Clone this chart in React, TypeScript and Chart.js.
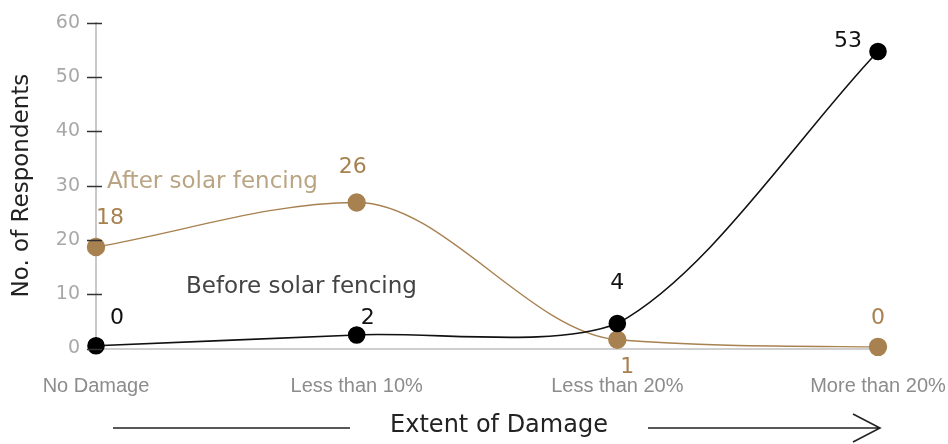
import React, { useEffect, useRef } from 'react';
import { Chart, registerables } from 'chart.js';

Chart.register(...registerables);

// ---- data ----
const categories = ['No Damage', 'Less than 10%', 'Less than 20%', 'More than 20%'];
const beforeValues = [0.5, 2.5, 4.6, 54.7];
const afterValues = [18.7, 26.9, 1.6, 0.3];
const beforeLabels = ['0', '2', '4', '53'];
const afterLabels = ['18', '26', '1', '0'];
const yTickValues = [0, 10, 20, 30, 40, 50, 60];
const seriesNames = ['Before solar fencing', 'After solar fencing'];
const yTitle = 'No. of Respondents';
const xTitle = 'Extent of Damage';

// ---- styles ----
const FONT = '"DejaVu Sans", sans-serif';
const GOLD = '#a88150';
const GOLD_LIGHT = '#b9a583';
const BLACK = '#000000';
const BEFORE_OFFSETS = [[21, -28], [11, -17], [0, -40], [-30, -10]];
const AFTER_OFFSETS = [[14, -29], [-4, -35], [10, 27], [0, -29]];

const decorPlugin = {
  id: 'decor',
  afterDatasetsDraw(chart: any) {
    const { ctx, chartArea, scales } = chart;
    const y = scales.y;
    ctx.save();
    // tick marks crossing the y axis
    ctx.strokeStyle = '#333';
    ctx.lineWidth = 1.5;
    yTickValues.forEach((v) => {
      const py = Math.round(y.getPixelForValue(v)) + 0.5;
      ctx.beginPath();
      ctx.moveTo(chartArea.left - 9, py);
      ctx.lineTo(chartArea.left + 6, py);
      ctx.stroke();
    });
    // data labels
    ctx.textAlign = 'center';
    ctx.textBaseline = 'middle';
    ctx.font = `22px ${FONT}`;
    const drawLabels = (dsIndex: number, labels: string[], offs: number[][], color: string) => {
      const meta = chart.getDatasetMeta(dsIndex);
      meta.data.forEach((pt: any, i: number) => {
        ctx.fillStyle = color;
        ctx.fillText(labels[i], pt.x + offs[i][0], pt.y + offs[i][1]);
      });
    };
    drawLabels(0, beforeLabels, BEFORE_OFFSETS, '#111');
    drawLabels(1, afterLabels, AFTER_OFFSETS, GOLD);
    // series labels
    ctx.textAlign = 'left';
    ctx.font = `23px ${FONT}`;
    ctx.fillStyle = GOLD_LIGHT;
    ctx.fillText(seriesNames[1], chartArea.left + 11, chartArea.top + 159);
    ctx.fillStyle = '#444';
    ctx.fillText(seriesNames[0], chartArea.left + 90, chartArea.top + 264);
    // x axis title with arrow
    const ty = chartArea.bottom + 79.5;
    ctx.textAlign = 'center';
    ctx.font = `24px ${FONT}`;
    ctx.fillStyle = '#222';
    ctx.fillText(xTitle, (chartArea.left + chartArea.right) / 2 + 12, ty - 2);
    ctx.strokeStyle = '#222';
    ctx.lineWidth = 1.6;
    ctx.beginPath();
    ctx.moveTo(chartArea.left + 17, ty);
    ctx.lineTo(chartArea.left + 254, ty);
    ctx.moveTo(chartArea.left + 552, ty);
    ctx.lineTo(chartArea.right + 2, ty);
    ctx.moveTo(chartArea.right - 25, ty - 14);
    ctx.lineTo(chartArea.right + 2, ty);
    ctx.lineTo(chartArea.right - 25, ty + 14);
    ctx.stroke();
    ctx.restore();
  },
};

export default function App() {
  const ref = useRef<HTMLCanvasElement | null>(null);
  useEffect(() => {
    if (!ref.current) return;
    const chart = new Chart(ref.current, {
      type: 'line',
      data: {
        labels: categories,
        datasets: [
          {
            label: seriesNames[0],
            data: beforeValues,
            borderColor: '#111',
            backgroundColor: BLACK,
            pointBackgroundColor: BLACK,
            pointBorderColor: BLACK,
            borderWidth: 1.6,
            pointRadius: 8,
            tension: 0.3,
            clip: false as any,
          },
          {
            label: seriesNames[1],
            data: afterValues,
            borderColor: GOLD,
            backgroundColor: GOLD,
            pointBackgroundColor: GOLD,
            pointBorderColor: GOLD,
            borderWidth: 1.4,
            pointRadius: 8.5,
            cubicInterpolationMode: 'monotone',
            clip: false as any,
          },
        ],
      },
      options: {
        animation: false,
        responsive: true,
        maintainAspectRatio: false,
        layout: { padding: { left: 0, right: 70, top: 22.7, bottom: 0 } },
        plugins: {
          legend: { display: false },
          tooltip: { enabled: false },
        },
        scales: {
          x: {
            type: 'category',
            offset: false,
            grid: { display: false, drawTicks: false },
            border: { display: true, color: '#cfcfcf', width: 2 },
            ticks: {
              color: '#8c8c8c',
              font: { family: '"Liberation Sans", Arial, sans-serif', size: 20 },
              padding: 26,
              maxRotation: 0,
              autoSkip: false,
            },
            afterFit: (scale: any) => {
              scale.height = 95.5;
              scale.paddingLeft = 0;
              scale.paddingRight = 0;
            },
          },
          y: {
            min: 0,
            max: 60,
            grid: { display: false, drawTicks: false },
            border: { display: true, color: '#c9c9c9', width: 2 },
            ticks: {
              stepSize: 10,
              color: '#a8a8a8',
              font: { family: FONT, size: 19 },
              padding: 16,
            },
            title: {
              display: true,
              text: yTitle,
              color: '#222',
              font: { family: FONT, size: 23 },
              padding: { top: 8, bottom: 0 },
            },
            afterFit: (scale: any) => {
              scale.width = 96;
              scale.paddingTop = 0;
              scale.paddingBottom = 0;
            },
          },
        },
      },
      plugins: [decorPlugin],
    });
    return () => chart.destroy();
  }, []);
  return (
    <div style={{ position: 'fixed', left: 0, top: 0, width: 948, height: 444, background: '#fff' }}>
      <canvas ref={ref} style={{ display: 'block' }} />
    </div>
  );
}
